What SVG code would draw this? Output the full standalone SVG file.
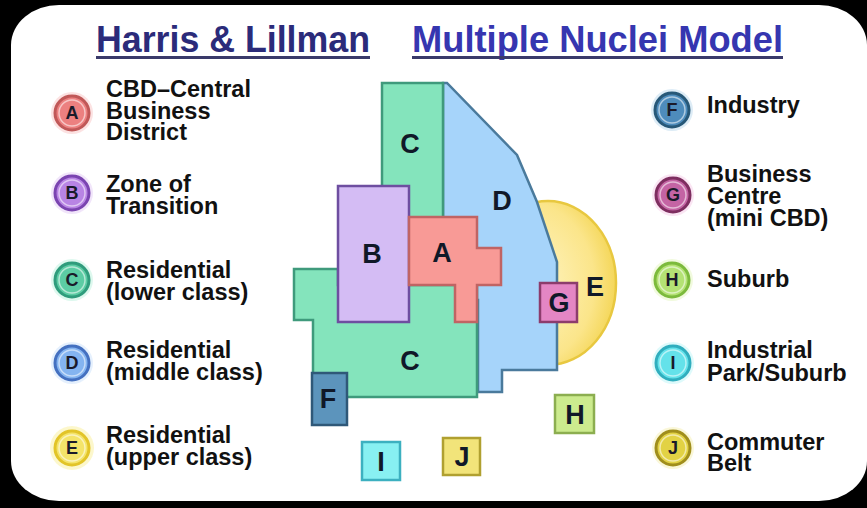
<svg xmlns="http://www.w3.org/2000/svg" width="867" height="508" viewBox="0 0 867 508">
<defs>
<style>
.t{font-family:"Liberation Sans",Arial,sans-serif;font-weight:bold;}
.lg{font-family:"Liberation Sans",Arial,sans-serif;font-weight:bold;font-size:23.5px;fill:#111;}
.cl{font-family:"Liberation Sans",Arial,sans-serif;font-weight:bold;font-size:18px;fill:#1a1a2a;text-anchor:middle;}
.ml{font-family:"Liberation Sans",Arial,sans-serif;font-weight:bold;font-size:27px;fill:#101828;text-anchor:middle;}
.z{stroke-width:2.5;stroke-linejoin:miter;}
.ring{fill:none;stroke:#ffffff;stroke-opacity:0.55;stroke-width:1.5;}
</style>
<radialGradient id="eg" cx="0.35" cy="0.5" r="0.7">
<stop offset="0" stop-color="#fff6c8"/>
<stop offset="0.7" stop-color="#fbe58a"/>
<stop offset="1" stop-color="#f2d24a"/>
</radialGradient>
</defs>
<rect x="0" y="0" width="867" height="508" fill="#000"/>
<rect x="11" y="5" width="856" height="496" rx="48" ry="40" fill="#ffffff"/>

<g id="title">
<text class="t" x="96" y="52" font-size="36" fill="#2b2b7a" textLength="274" lengthAdjust="spacingAndGlyphs">Harris &amp; Lillman</text>
<rect x="96" y="56" width="274" height="3" fill="#3a3a6a"/>
<text class="t" x="412" y="52" font-size="36" fill="#3636b0" textLength="371" lengthAdjust="spacingAndGlyphs">Multiple Nuclei Model</text>
<rect x="412" y="56" width="371" height="3" fill="#3a3a6a"/>
</g>

<g id="map-connectors"></g>

<g id="map">
<g id="zone-E"><ellipse cx="548" cy="283" rx="68" ry="82" fill="url(#eg)" stroke="#e8c840" stroke-width="2.5"/><text class="ml" x="595" y="296">E</text></g>
<g id="zone-D"><polygon class="z" points="443,83 447,83 517,155 537,202 557,262 557,370 502,370 502,392 478,392 478,300 443,300" fill="#a6d4fa" stroke="#4a7a9c"/><text class="ml" x="502" y="210">D</text></g>
<g id="zone-C-top"><rect class="z" x="382" y="83" width="61" height="150" fill="#84e4bc" stroke="#3f9a7c"/><text class="ml" x="410" y="153">C</text></g>
<g id="zone-C-low"><polygon class="z" points="294,269 338,269 338,285 477,285 477,397 313,397 313,320 294,320" fill="#84e4bc" stroke="#3f9a7c"/><text class="ml" x="410" y="370">C</text></g>
<g id="zone-B"><rect class="z" x="338" y="186" width="71" height="136" fill="#d4bcf4" stroke="#6e4ea0"/><text class="ml" x="372" y="263">B</text></g>
<g id="zone-A"><polygon class="z" points="409,217 477,217 477,248 501,248 501,285 477,285 477,322 455,322 455,285 409,285" fill="#f89a96" stroke="#c06464"/><text class="ml" x="442" y="262">A</text></g>
<g id="zone-F"><rect class="z" x="312" y="373" width="35" height="52" fill="#5c94bc" stroke="#2f5878"/><text class="ml" x="328" y="408">F</text></g>
<g id="zone-G"><rect class="z" x="540" y="283" width="37" height="39" fill="#e486c4" stroke="#8c3c6c"/><text class="ml" x="559" y="312">G</text></g>
<g id="zone-H"><rect class="z" x="555" y="395" width="39" height="38" fill="#cceb8e" stroke="#8cae50"/><text class="ml" x="575" y="424">H</text></g>
<g id="zone-I"><rect class="z" x="362" y="442" width="38" height="38" fill="#88f0f2" stroke="#3cb0c0"/><text class="ml" x="381" y="471">I</text></g>
<g id="zone-J"><rect class="z" x="443" y="438" width="37" height="37" fill="#f2e47a" stroke="#b0a030"/><text class="ml" x="462" y="466">J</text></g>
</g>

<g id="legend-A"><circle cx="72" cy="113" r="21" fill="#f4a0a0" opacity="0.3"/><circle cx="72" cy="113" r="17" fill="#ec8080" stroke="#c05858" stroke-width="3"/><circle class="ring" cx="72" cy="113" r="13"/><text class="cl" x="72" y="119">A</text>
<text class="lg" x="106" y="97">CBD–Central</text><text class="lg" x="106" y="118.5">Business</text><text class="lg" x="106" y="140">District</text></g>
<g id="legend-B"><circle cx="72" cy="193" r="21" fill="#d0a8f0" opacity="0.3"/><circle cx="72" cy="193" r="17" fill="#b884e4" stroke="#7a44b0" stroke-width="3"/><circle class="ring" cx="72" cy="193" r="13"/><text class="cl" x="72" y="199">B</text>
<text class="lg" x="106" y="192">Zone of</text><text class="lg" x="106" y="214">Transition</text></g>
<g id="legend-C"><circle cx="72" cy="280" r="21" fill="#90e8c8" opacity="0.3"/><circle cx="72" cy="280" r="17" fill="#5ccca4" stroke="#2f9c7c" stroke-width="3"/><circle class="ring" cx="72" cy="280" r="13"/><text class="cl" x="72" y="286">C</text>
<text class="lg" x="106" y="278">Residential</text><text class="lg" x="106" y="300">(lower class)</text></g>
<g id="legend-D"><circle cx="72" cy="363" r="21" fill="#a8ccf8" opacity="0.3"/><circle cx="72" cy="363" r="17" fill="#84b4f0" stroke="#4470c0" stroke-width="3"/><circle class="ring" cx="72" cy="363" r="13"/><text class="cl" x="72" y="369">D</text>
<text class="lg" x="106" y="358">Residential</text><text class="lg" x="106" y="380">(middle class)</text></g>
<g id="legend-E"><circle cx="72" cy="448" r="22" fill="#f8ec80" opacity="0.4"/><circle cx="72" cy="448" r="17" fill="#f4e46a" stroke="#e2c428" stroke-width="3"/><circle class="ring" cx="72" cy="448" r="13"/><text class="cl" x="72" y="454">E</text>
<text class="lg" x="106" y="443">Residential</text><text class="lg" x="106" y="465">(upper class)</text></g>

<g id="legend-F"><circle cx="672" cy="110" r="21" fill="#90c0e0" opacity="0.3"/><circle cx="672" cy="110" r="17" fill="#4e8cbc" stroke="#275878" stroke-width="3"/><circle class="ring" cx="672" cy="110" r="13"/><text class="cl" x="672" y="116">F</text>
<text class="lg" x="707" y="113">Industry</text></g>
<g id="legend-G"><circle cx="673" cy="195" r="21" fill="#f0a8d8" opacity="0.3"/><circle cx="673" cy="195" r="17" fill="#c464a4" stroke="#7e2e60" stroke-width="3"/><circle class="ring" cx="673" cy="195" r="13"/><text class="cl" x="673" y="201">G</text>
<text class="lg" x="707" y="182">Business</text><text class="lg" x="707" y="204">Centre</text><text class="lg" x="707" y="226">(mini CBD)</text></g>
<g id="legend-H"><circle cx="672" cy="280" r="21" fill="#d8f0a0" opacity="0.35"/><circle cx="672" cy="280" r="17" fill="#b4e274" stroke="#7cba3c" stroke-width="3"/><circle class="ring" cx="672" cy="280" r="13"/><text class="cl" x="672" y="286">H</text>
<text class="lg" x="707" y="287">Suburb</text></g>
<g id="legend-I"><circle cx="673" cy="363" r="21" fill="#a0f0f4" opacity="0.35"/><circle cx="673" cy="363" r="17" fill="#64e2ea" stroke="#30aebe" stroke-width="3"/><circle class="ring" cx="673" cy="363" r="13"/><text class="cl" x="673" y="369">I</text>
<text class="lg" x="707" y="358">Industrial</text><text class="lg" x="707" y="381">Park/Suburb</text></g>
<g id="legend-J"><circle cx="673" cy="448" r="21" fill="#f0e890" opacity="0.35"/><circle cx="673" cy="448" r="17" fill="#e2d244" stroke="#a08e1c" stroke-width="3"/><circle class="ring" cx="673" cy="448" r="13"/><text class="cl" x="673" y="454">J</text>
<text class="lg" x="707" y="450">Commuter</text><text class="lg" x="707" y="471">Belt</text></g>
</svg>
